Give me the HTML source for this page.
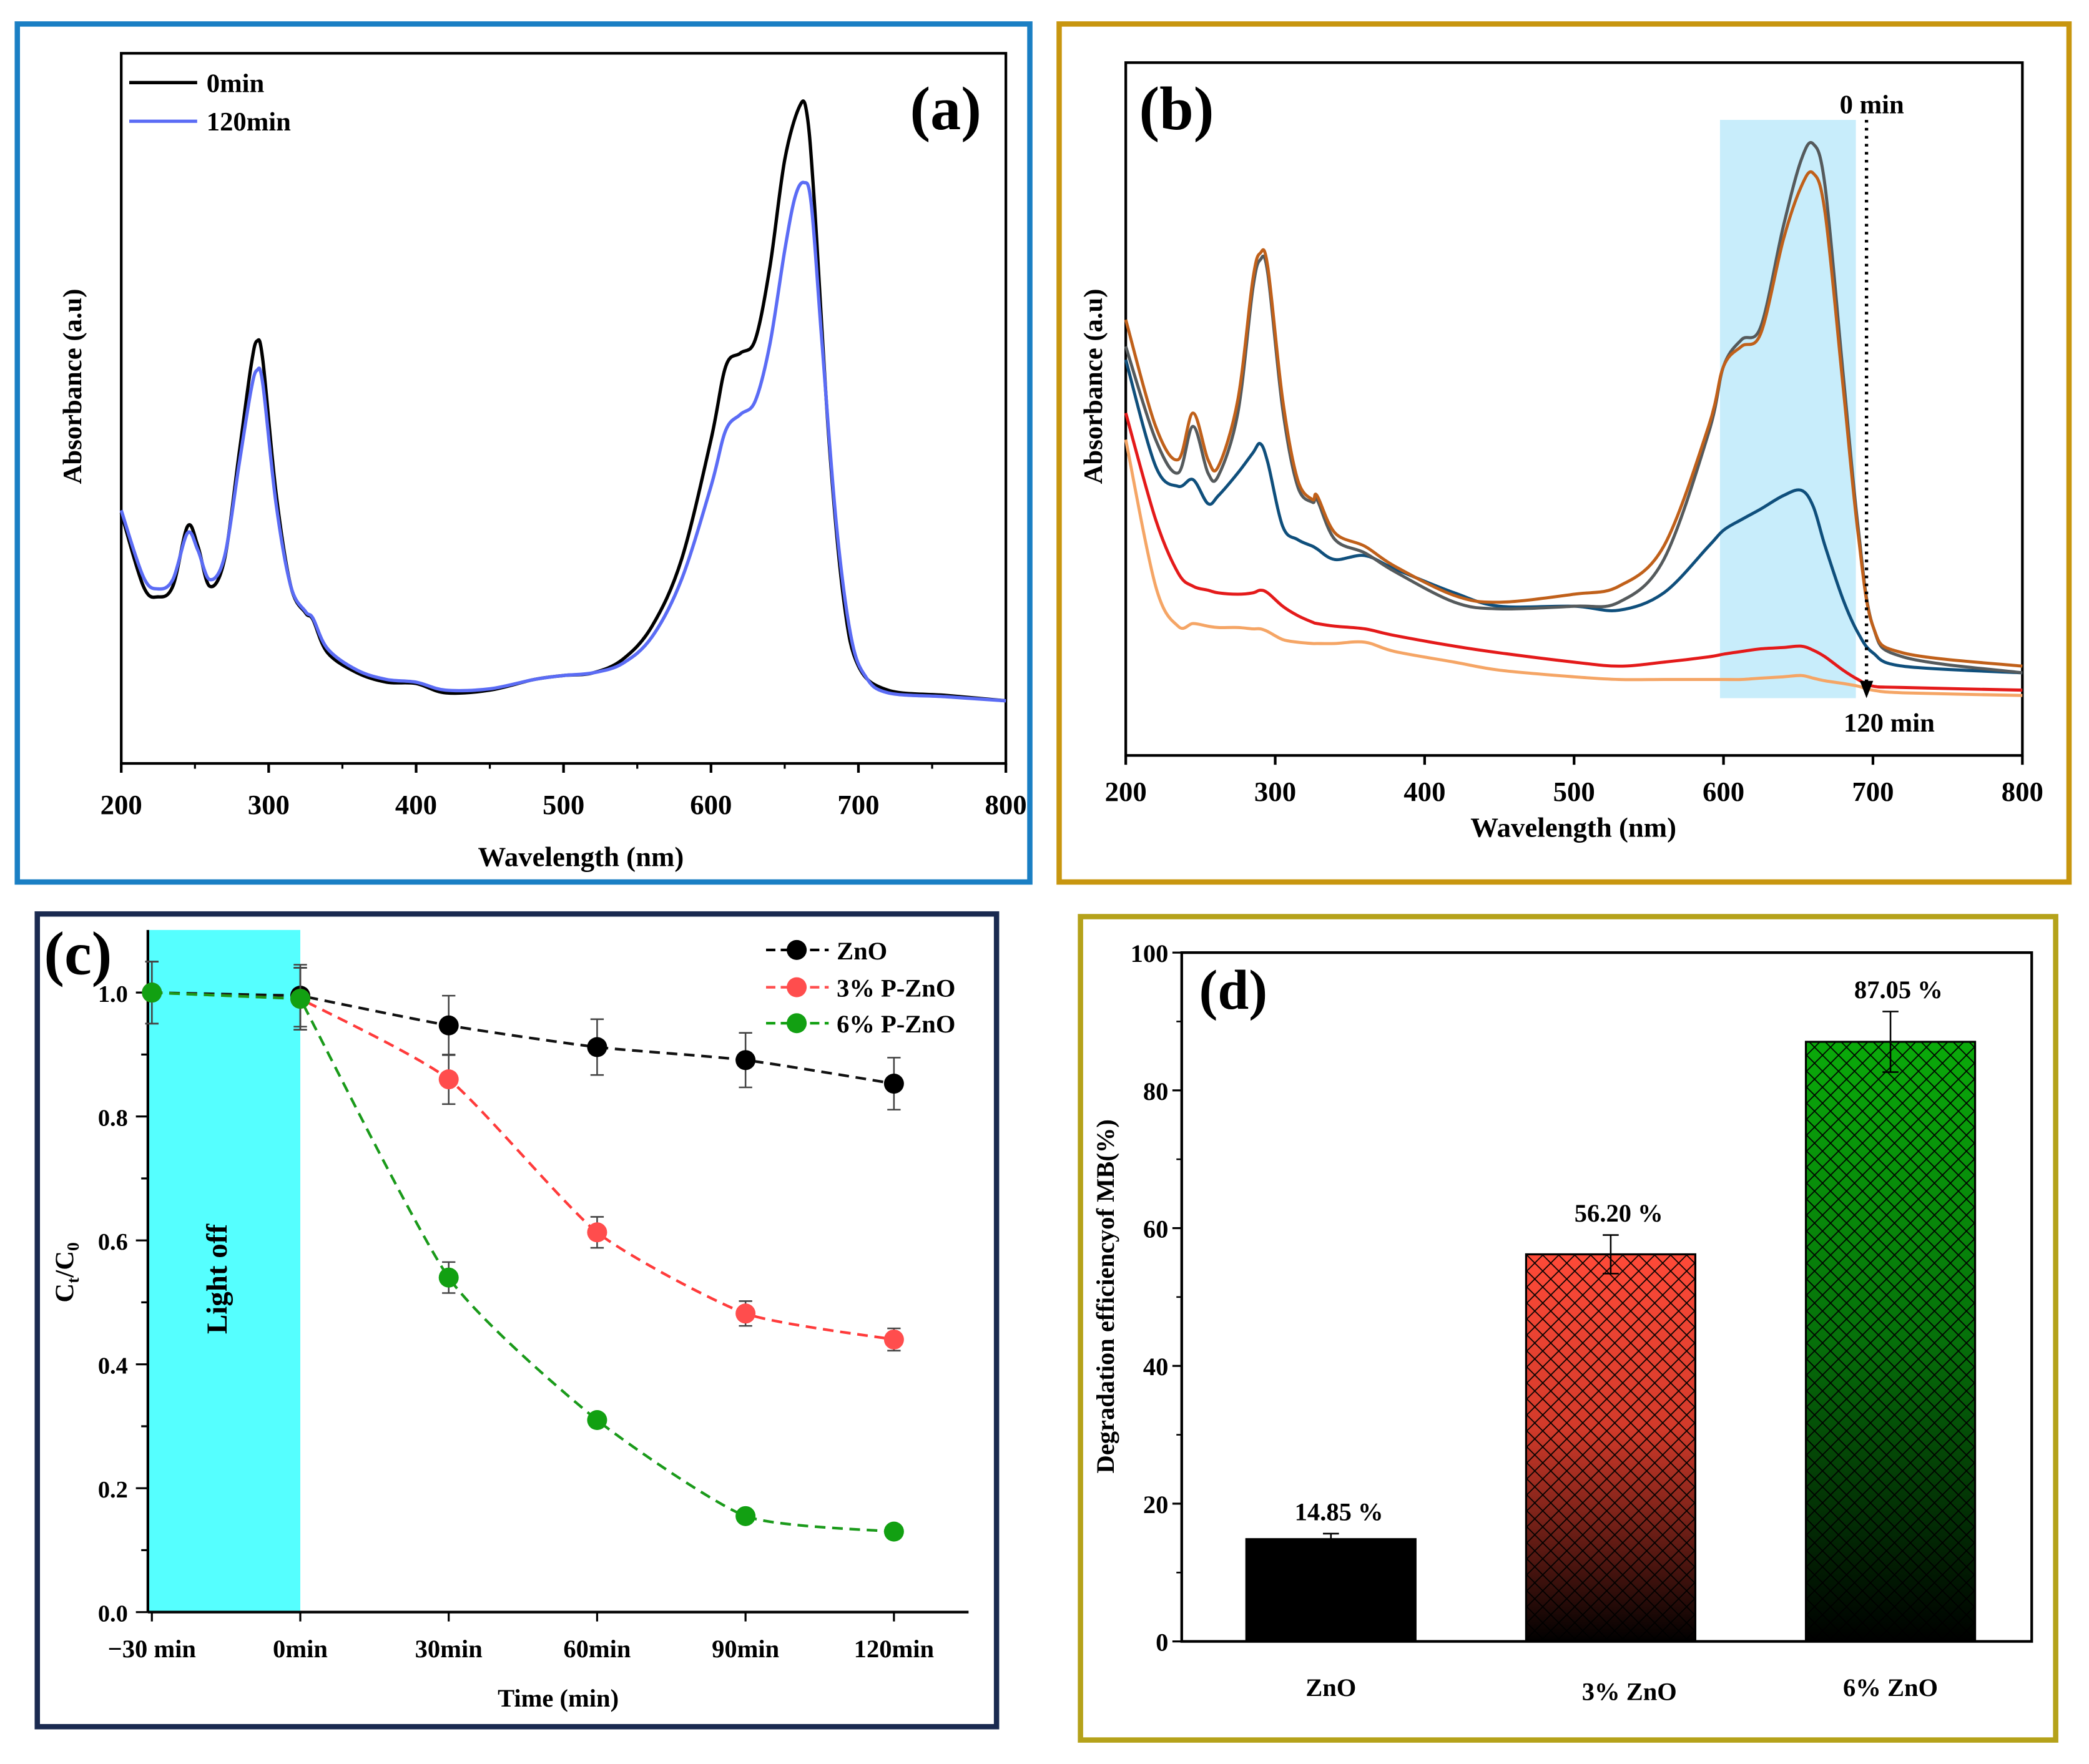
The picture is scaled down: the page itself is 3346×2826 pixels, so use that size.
<!DOCTYPE html>
<html><head><meta charset="utf-8">
<style>
html,body{margin:0;padding:0;background:#fff;}
svg{display:block;font-family:"Liberation Serif",serif;font-weight:bold;}
</style></head>
<body>
<svg id="fig" width="3346" height="2826" viewBox="0 0 1568 1324" preserveAspectRatio="none" xmlns="http://www.w3.org/2000/svg">
<defs>
<linearGradient id="gRed" x1="0" y1="0" x2="0" y2="1"><stop offset="0" stop-color="#ff4a38"/><stop offset="0.45" stop-color="#d23a2a"/><stop offset="1" stop-color="#000"/></linearGradient>
<linearGradient id="gGreen" x1="0" y1="0" x2="0" y2="1"><stop offset="0" stop-color="#0aaa0a"/><stop offset="0.5" stop-color="#06700a"/><stop offset="1" stop-color="#000"/></linearGradient>
<pattern id="hatch" width="12" height="12" patternUnits="userSpaceOnUse"><path d="M0,0L12,12M12,0L0,12" stroke="#000" stroke-width="0.8" fill="none"/></pattern>
</defs>
</svg>
<script>
// ---------- Panel (a) data ----------
const aWave0 = [200,215,225,235,245,252,260,270,280,288,292,296,305,315,325,330,340,360,380,400,420,450,480,500,520,540,560,580,600,610,620,630,640,650,660,665,670,680,690,700,720,760,800];
const aAbs0  = [1.88,1.33,1.25,1.33,1.78,1.63,1.33,1.53,2.33,2.98,3.17,3.03,2.03,1.33,1.13,1.08,0.83,0.68,0.61,0.60,0.53,0.55,0.63,0.66,0.68,0.78,1.03,1.53,2.43,2.98,3.08,3.18,3.73,4.53,4.93,4.88,4.23,2.43,1.23,0.73,0.55,0.51,0.47];
const aWave120 = [200,215,225,235,245,252,260,270,280,288,292,296,305,315,325,330,340,360,380,400,420,450,480,500,520,540,560,580,600,610,620,630,640,650,657,663,668,675,685,695,705,720,760,800];
const aAbs120  = [1.90,1.40,1.31,1.38,1.73,1.60,1.38,1.55,2.25,2.80,2.95,2.85,1.95,1.33,1.14,1.09,0.86,0.70,0.63,0.61,0.55,0.56,0.63,0.66,0.68,0.75,0.95,1.38,2.08,2.50,2.62,2.72,3.15,3.85,4.25,4.36,4.20,3.20,1.80,0.95,0.65,0.53,0.50,0.47];
// ---------- Panel (b) data ----------
const bWave = [200,220,235,245,255,262,275,285,290,295,305,315,325,328,340,360,380,420,450,500,530,560,590,600,612,625,640,652,660,668,680,690,700,720,800];
const bBrown = [3.27,2.47,2.22,2.57,2.22,2.17,2.67,3.57,3.77,3.67,2.67,2.07,1.92,1.95,1.67,1.57,1.42,1.20,1.15,1.21,1.27,1.57,2.47,2.92,3.07,3.17,3.87,4.27,4.37,4.07,2.77,1.67,0.97,0.77,0.67];
const bGray  = [3.07,2.37,2.12,2.47,2.12,2.10,2.57,3.50,3.72,3.62,2.60,2.02,1.90,1.92,1.62,1.52,1.38,1.15,1.10,1.12,1.15,1.47,2.42,2.92,3.12,3.22,3.97,4.47,4.59,4.27,2.87,1.72,0.97,0.74,0.62];
const bNavy  = [2.97,2.17,2.02,2.07,1.89,1.95,2.12,2.27,2.34,2.20,1.72,1.62,1.57,1.55,1.47,1.50,1.40,1.22,1.12,1.12,1.09,1.22,1.57,1.69,1.77,1.85,1.95,1.99,1.87,1.57,1.17,0.92,0.77,0.67,0.62];
const bRed   = [2.57,1.77,1.37,1.27,1.24,1.22,1.21,1.22,1.24,1.22,1.12,1.05,1.00,0.99,0.97,0.95,0.90,0.82,0.77,0.70,0.67,0.70,0.74,0.76,0.78,0.80,0.81,0.82,0.79,0.74,0.64,0.57,0.52,0.51,0.49];
const bPeach = [2.37,1.27,0.97,0.99,0.97,0.96,0.96,0.95,0.95,0.93,0.87,0.85,0.84,0.84,0.84,0.85,0.78,0.70,0.64,0.59,0.57,0.57,0.57,0.57,0.57,0.58,0.59,0.60,0.58,0.56,0.54,0.52,0.49,0.47,0.45];
// ---------- Panel (c) data ----------
const cTimes = [-30,0,30,60,90,120];
const cTickLabels = ["\u221230 min","0min","30min","60min","90min","120min"];
const cZnO  = [1.0,0.995,0.947,0.912,0.891,0.853];
const cP3   = [1.0,0.99,0.86,0.613,0.482,0.44];
const cP6   = [1.0,0.99,0.54,0.31,0.155,0.13];
const cErrZnO = [0.05,0.05,0.048,0.045,0.044,0.042];
const cErrP3  = [0.05,0.05,0.04,0.025,0.02,0.018];
const cErrP6  = [0.05,0.05,0.025,0.01,0.008,0.008];
// ---------- Panel (d) data ----------
const dCats = ["ZnO","3% ZnO","6% ZnO"];
const dVals = [14.85,56.20,87.05];
const dErr  = [0.8,2.8,4.4];
const dLabels = ["14.85 %","56.20 %","87.05 %"];
const dTicks = [0,20,40,60,80,100];

const NS="http://www.w3.org/2000/svg";
const svg=document.getElementById('fig');
function el(tag,attrs,parent,text){const e=document.createElementNS(NS,tag);for(const k in attrs)e.setAttribute(k,attrs[k]);if(text!==undefined)e.textContent=text;(parent||svg).appendChild(e);return e;}
function lin(d0,d1,r0,r1){return v=>r0+(v-d0)*(r1-r0)/(d1-d0);}
function smoothPath(pts,k){k=k||6;let d="M"+pts[0][0]+","+pts[0][1];for(let i=0;i<pts.length-1;i++){const p0=pts[Math.max(0,i-1)],p1=pts[i],p2=pts[i+1],p3=pts[Math.min(pts.length-1,i+2)];const c1=[p1[0]+(p2[0]-p0[0])/k,p1[1]+(p2[1]-p0[1])/k],c2=[p2[0]-(p3[0]-p1[0])/k,p2[1]-(p3[1]-p1[1])/k];d+=`C${c1[0]},${c1[1]} ${c2[0]},${c2[1]} ${p2[0]},${p2[1]}`;}return d;}

// ===== Panel (a) =====
let r=el('rect',{x:13,y:18,width:760,height:644,fill:'none',stroke:'#1a7fc4','stroke-width':4});

const axA=lin(200,800,91,755), ayA=lin(0,5.33,573,40);
let g=el('g',{});
el('rect',{x:91,y:40,width:664,height:533,fill:'none',stroke:'#000','stroke-width':2},g);
for(let w=200;w<=800;w+=100){el('line',{x1:axA(w),y1:573,x2:axA(w),y2:580,stroke:'#000','stroke-width':2},g);
 const t=el('text',{x:axA(w),y:611,'font-size':21,'text-anchor':'middle'},g,String(w));}
for(let w=250;w<800;w+=100)el('line',{x1:axA(w),y1:573,x2:axA(w),y2:577,stroke:'#000','stroke-width':1.5},g);
let t=el('text',{x:436,y:650,'font-size':21,'text-anchor':'middle'},g,'Wavelength (nm)');
t=el('text',{x:0,y:0,'font-size':20,'text-anchor':'middle',transform:'translate(61,290) rotate(-90)'},g,'Absorbance (a.u)');
let p=el('path',{d:smoothPath(aWave0.map((w,i)=>[axA(w),ayA(aAbs0[i])])),fill:'none',stroke:'#000','stroke-width':2.5},g);
p=el('path',{d:smoothPath(aWave120.map((w,i)=>[axA(w),ayA(aAbs120[i])])),fill:'none',stroke:'#5b6cf5','stroke-width':2.5},g);
el('line',{x1:97,y1:62,x2:148,y2:62,stroke:'#000','stroke-width':2.5},g);
t=el('text',{x:155,y:69,'font-size':20},g,'0min');
el('line',{x1:97,y1:91,x2:148,y2:91,stroke:'#5b6cf5','stroke-width':2.5},g);
t=el('text',{x:155,y:98,'font-size':20},g,'120min');
t=el('text',{x:683,y:97,'font-size':46},g,'(a)');

// ===== Panel (b) =====
r=el('rect',{x:795,y:18,width:758,height:644,fill:'none',stroke:'#c8960f','stroke-width':4});

const axB=lin(200,800,845,1518), ayB=lin(0,5.2,567,47);
g=el('g',{});
r=el('rect',{x:1291,y:90,width:102,height:434,fill:'#c8edfb'},g);
el('rect',{x:845,y:47,width:673,height:520,fill:'none',stroke:'#000','stroke-width':2},g);
for(let w=200;w<=800;w+=100){el('line',{x1:axB(w),y1:567,x2:axB(w),y2:574,stroke:'#000','stroke-width':2},g);
 t=el('text',{x:axB(w),y:601,'font-size':21,'text-anchor':'middle'},g,String(w));}
t=el('text',{x:1181,y:628,'font-size':21,'text-anchor':'middle'},g,'Wavelength (nm)');
t=el('text',{x:0,y:0,'font-size':20,'text-anchor':'middle',transform:'translate(827,290) rotate(-90)'},g,'Absorbance (a.u)');
[[bPeach,'#f5a565','b-line-peach'],[bRed,'#e41a1a','b-line-red'],[bNavy,'#0f4f7c','b-line-navy'],[bGray,'#555a5c','b-line-gray'],[bBrown,'#c0601a','b-line-brown']].forEach(s=>{
 const pp=el('path',{d:smoothPath(bWave.map((w,i)=>[axB(w),ayB(s[0][i])])),fill:'none',stroke:s[1],'stroke-width':2.3},g);
 });
el('line',{x1:1401,y1:90,x2:1401,y2:512,stroke:'#000','stroke-width':2.5,'stroke-dasharray':'2,4'},g);
el('path',{d:'M1396,511 L1406,511 L1401,524 Z',fill:'#000'},g);
t=el('text',{x:1405,y:85,'font-size':20,'text-anchor':'middle'},g,'0 min');
t=el('text',{x:1418,y:549,'font-size':20,'text-anchor':'middle'},g,'120 min');
t=el('text',{x:855,y:97,'font-size':46},g,'(b)');

// ===== Panel (c) =====
r=el('rect',{x:28,y:686,width:720,height:610,fill:'none',stroke:'#1a2a50','stroke-width':4});

const axC=lin(-30,120,114,671), ayC=lin(0,1,1210,745);
g=el('g',{});
r=el('rect',{x:111,y:698,width:axC(0)-111,height:512,fill:'#55ffff'},g);
el('line',{x1:111,y1:698,x2:111,y2:1210,stroke:'#000','stroke-width':2},g);
el('line',{x1:111,y1:1210,x2:727,y2:1210,stroke:'#000','stroke-width':2},g);
for(let v=0;v<=1.001;v+=0.1){const y=ayC(v),major=Math.round(v*10)%2===0;el('line',{x1:major?102:106,y1:y,x2:111,y2:y,stroke:'#000','stroke-width':1.5},g);
 if(major){t=el('text',{x:96,y:y+7,'font-size':18,'text-anchor':'end'},g,v.toFixed(1));}}
cTimes.forEach((tm,i)=>{el('line',{x1:axC(tm),y1:1210,x2:axC(tm),y2:1217,stroke:'#000','stroke-width':1.5},g);
 const tt=el('text',{x:axC(tm),y:1244,'font-size':19,'text-anchor':'middle'},g,cTickLabels[i]);});
t=el('text',{x:419,y:1281,'font-size':19,'text-anchor':'middle'},g,'Time (min)');
t=el('text',{x:0,y:0,'font-size':20,'text-anchor':'middle',transform:'translate(55,955) rotate(-90)'},g);t.innerHTML='C<tspan font-size="13" dy="4">t</tspan><tspan dy="-4">/C</tspan><tspan font-size="13" dy="4">0</tspan>';

t=el('text',{x:0,y:0,'font-size':22,'text-anchor':'middle',transform:'translate(170,960) rotate(-90)'},g,'Light off');
const cSeries=[[cZnO,cErrZnO,'#111','#000','c-series-zno'],[cP3,cErrP3,'#ff3b3b','#ff4d4d','c-series-3p'],[cP6,cErrP6,'#1a9a1a','#12a012','c-series-6p']];
cSeries.forEach(s=>{const sg=el('g',{},g);
 const pts=cTimes.map((tm,i)=>[axC(tm),ayC(s[0][i])]);
 el('path',{d:"M"+pts[0][0]+","+pts[0][1]+"L"+pts[1][0]+","+pts[1][1]+smoothPath(pts.slice(1),10).replace(/^M[^C]*/,''),fill:'none',stroke:s[2],'stroke-width':2,'stroke-dasharray':'8,5'},sg);
 cTimes.forEach((tm,i)=>{const x=axC(tm);el('line',{x1:x,y1:ayC(s[0][i]+s[1][i]),x2:x,y2:ayC(s[0][i]-s[1][i]),stroke:'#444','stroke-width':1.2},sg);
  el('line',{x1:x-5,y1:ayC(s[0][i]+s[1][i]),x2:x+5,y2:ayC(s[0][i]+s[1][i]),stroke:'#444','stroke-width':1.2},sg);
  el('line',{x1:x-5,y1:ayC(s[0][i]-s[1][i]),x2:x+5,y2:ayC(s[0][i]-s[1][i]),stroke:'#444','stroke-width':1.2},sg);
  const c=el('circle',{cx:x,cy:ayC(s[0][i]),r:7.5,fill:s[3]},sg);});});
[['ZnO','#000',713],['3% P-ZnO','#ff4d4d',741],['6% P-ZnO','#12a012',768]].forEach(l=>{
 el('line',{x1:575,y1:l[2],x2:622,y2:l[2],stroke:l[1],'stroke-width':2,'stroke-dasharray':'7,4'},g);
 el('circle',{cx:598,cy:l[2],r:7.5,fill:l[1]},g);
 const lt=el('text',{x:628,y:l[2]+7,'font-size':19},g,l[0]);});
t=el('text',{x:33,y:731,'font-size':46},g,'(c)');

// ===== Panel (d) =====
r=el('rect',{x:811,y:688,width:732,height:618,fill:'none',stroke:'#b5a21a','stroke-width':4});

const ayD=lin(0,100,1232,715); const dCenters=[999,1209,1419], bw=127;
g=el('g',{});
const fills=['#000','url(#gRed)','url(#gGreen)'];
dVals.forEach((v,i)=>{const x=dCenters[i]-bw/2,y=ayD(v),h=ayD(0)-y;
 const b=el('rect',{x:x,y:y,width:bw,height:h,fill:fills[i],stroke:'#000','stroke-width':1.5},g);
 if(i>0)el('rect',{x:x,y:y,width:bw,height:h,fill:'url(#hatch)'},g);
 const cx=dCenters[i],e1=ayD(v+dErr[i]),e2=ayD(v-dErr[i]);
 el('line',{x1:cx,y1:e1,x2:cx,y2:e2,stroke:'#000','stroke-width':1.2},g);
 el('line',{x1:cx-6,y1:e1,x2:cx+6,y2:e1,stroke:'#000','stroke-width':1.2},g);
 el('line',{x1:cx-6,y1:e2,x2:cx+6,y2:e2,stroke:'#000','stroke-width':1.2},g);
 const lt=el('text',{x:cx+6,y:ayD(v+dErr[i])-10,'font-size':19,'text-anchor':'middle'},g,dLabels[i]);
 const ct=el('text',{x:cx+(i===1?14:0),y:1273+(i===1?3:0),'font-size':19,'text-anchor':'middle'},g,dCats[i]);});
el('rect',{x:887,y:715,width:638,height:517,fill:'none',stroke:'#000','stroke-width':2},g);
dTicks.forEach(v=>{const y=ayD(v);el('line',{x1:880,y1:y,x2:887,y2:y,stroke:'#000','stroke-width':1.5},g);
 const tt=el('text',{x:877,y:y+7,'font-size':19,'text-anchor':'end'},g,String(v));});
for(let v=10;v<100;v+=20)el('line',{x1:883,y1:ayD(v),x2:887,y2:ayD(v),stroke:'#000','stroke-width':1.2},g);
t=el('text',{x:0,y:0,'font-size':19,'text-anchor':'middle',transform:'translate(836,973) rotate(-90)'},g,'Degradation efficiencyof MB(%)');
t=el('text',{x:900,y:757,'font-size':42},g,'(d)');
</script>
</body></html>
